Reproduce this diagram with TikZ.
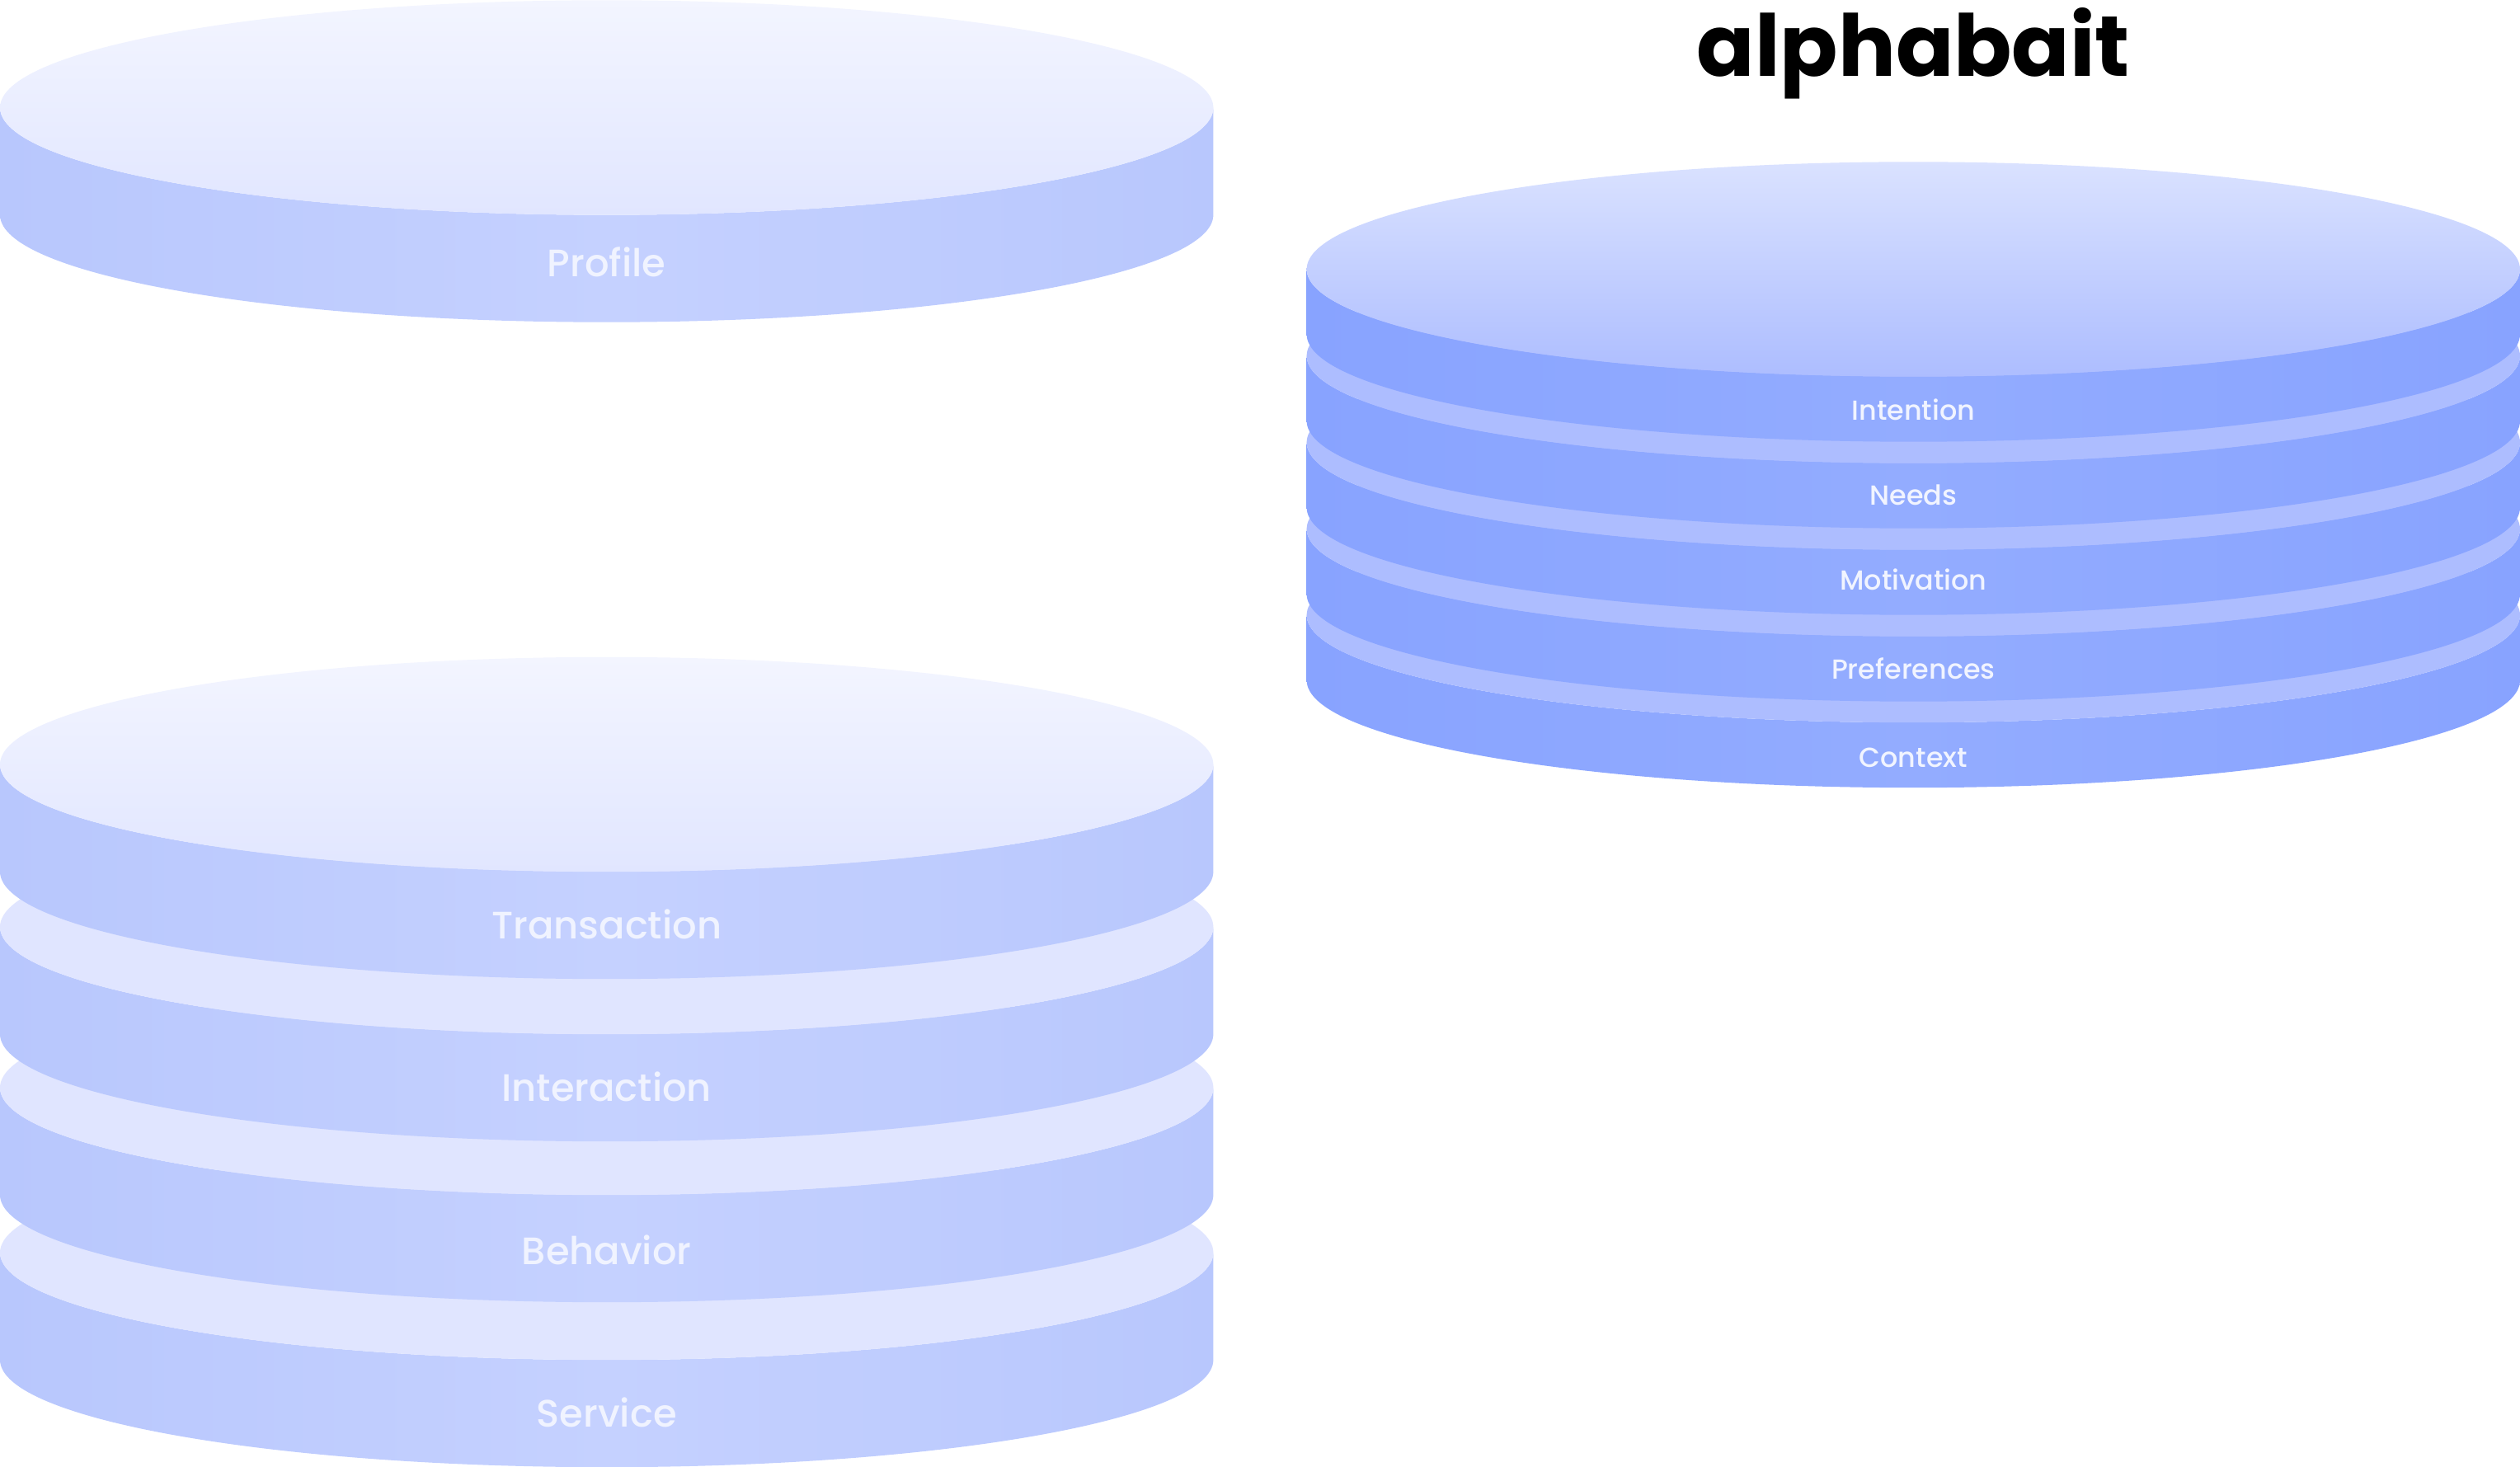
\documentclass[tikz,border=0pt]{standalone}
\usepackage{fontspec}
\setmainfont{Poppins}
\newfontfamily\labelface{Poppins Medium}
\usepackage{xcolor}
\usepackage{tikz}
\definecolor{palerim}{HTML}{B8C7FD}
\definecolor{palemid}{HTML}{C5D1FF}
\definecolor{paleup}{HTML}{F3F5FF}
\definecolor{paledown}{HTML}{E1E6FF}
\definecolor{palering}{HTML}{E0E5FF}
\definecolor{palefont}{HTML}{F0F3FF}
\definecolor{deeprim}{HTML}{88A3FF}
\definecolor{deepmid}{HTML}{93ACFF}
\definecolor{deepup}{HTML}{DAE2FF}
\definecolor{deepdown}{HTML}{ADBDFF}
\definecolor{deepfont}{HTML}{F1F4FF}

\begin{document}
\begin{tikzpicture}
    \tikzstyle{disk} = [x radius=7.357, y radius=1.302]
    \tikzstyle{paleside} = [disk, left color=palerim, right color=palerim, middle color=palemid]
    \tikzstyle{paletop} = [disk, top color=paleup, bottom color=paledown]
    \tikzstyle{palelip} = [disk, fill=palering]
    \tikzstyle{deepside} = [disk, left color=deeprim, right color=deeprim, middle color=deepmid]
    \tikzstyle{deeptop} = [disk, top color=deepup, bottom color=deepdown]
    \tikzstyle{deeplip} = [disk, fill=deepdown]
    \tikzstyle{palelabel} = [font=\labelface\fontsize{13.2}{16}\selectfont, text=palefont]
    \tikzstyle{deeplabel} = [font=\labelface\fontsize{9.5}{12}\selectfont, text=deepfont]

    \useasboundingbox (0,0) rectangle (30.56,-17.79);

    % profile disk
    \shade [paleside] (0,-1.305) -- ++(0,-1.30) arc [start angle=180, end angle=360] -- ++(0,1.30) arc [start angle=0, end angle=-180];
    \shade [paletop] (7.357,-1.305) ellipse [];

    % lower stack, bottom first
    \shade [paleside] (0,-15.19) -- ++(0,-1.30) arc [start angle=180, end angle=360] -- ++(0,1.30) arc [start angle=0, end angle=-180];
    \fill [palelip] (7.357,-15.19) ellipse [];
    \shade [paleside] (0,-13.19) -- ++(0,-1.30) arc [start angle=180, end angle=360] -- ++(0,1.30) arc [start angle=0, end angle=-180];
    \fill [palelip] (7.357,-13.19) ellipse [];
    \shade [paleside] (0,-11.24) -- ++(0,-1.30) arc [start angle=180, end angle=360] -- ++(0,1.30) arc [start angle=0, end angle=-180];
    \fill [palelip] (7.357,-11.24) ellipse [];
    \shade [paleside] (0,-9.27) -- ++(0,-1.30) arc [start angle=180, end angle=360] -- ++(0,1.30) arc [start angle=0, end angle=-180];
    \shade [paletop] (7.357,-9.27) ellipse [];

    % right stack, bottom first
    \shade [deepside] (15.846,-7.46) -- ++(0,-0.79) arc [start angle=180, end angle=360] -- ++(0,0.79) arc [start angle=0, end angle=-180];
    \fill [deeplip] (23.203,-7.46) ellipse [];
    \shade [deepside] (15.846,-6.415) -- ++(0,-0.79) arc [start angle=180, end angle=360] -- ++(0,0.79) arc [start angle=0, end angle=-180];
    \fill [deeplip] (23.203,-6.415) ellipse [];
    \shade [deepside] (15.846,-5.365) -- ++(0,-0.79) arc [start angle=180, end angle=360] -- ++(0,0.79) arc [start angle=0, end angle=-180];
    \fill [deeplip] (23.203,-5.365) ellipse [];
    \shade [deepside] (15.846,-4.315) -- ++(0,-0.79) arc [start angle=180, end angle=360] -- ++(0,0.79) arc [start angle=0, end angle=-180];
    \fill [deeplip] (23.203,-4.315) ellipse [];
    \shade [deepside] (15.846,-3.265) -- ++(0,-0.79) arc [start angle=180, end angle=360] -- ++(0,0.79) arc [start angle=0, end angle=-180];
    \shade [deeptop] (23.203,-3.265) ellipse [];

    \node [palelabel] (profile) at (7.357,-3.18) {Profile};
    \node [palelabel] (transaction) at (7.357,-11.21) {Transaction};
    \node [palelabel] (interaction) at (7.357,-13.18) {Interaction};
    \node [palelabel] (behavior) at (7.357,-15.16) {Behavior};
    \node [palelabel] (service) at (7.357,-17.13) {Service};

    \node [deeplabel] (intention) at (23.203,-4.97) {Intention};
    \node [deeplabel] (needs) at (23.203,-6.0) {Needs};
    \node [deeplabel] (motivation) at (23.203,-7.03) {Motivation};
    \node [deeplabel] (preferences) at (23.203,-8.11) {Preferences};
    \node [deeplabel] (context) at (23.203,-9.19) {Context};

    \node [font=\fontsize{29.5}{36}\selectfont\bfseries, anchor=base] (brand) at (23.203,-0.93) {alphabait};
\end{tikzpicture}
\end{document}
